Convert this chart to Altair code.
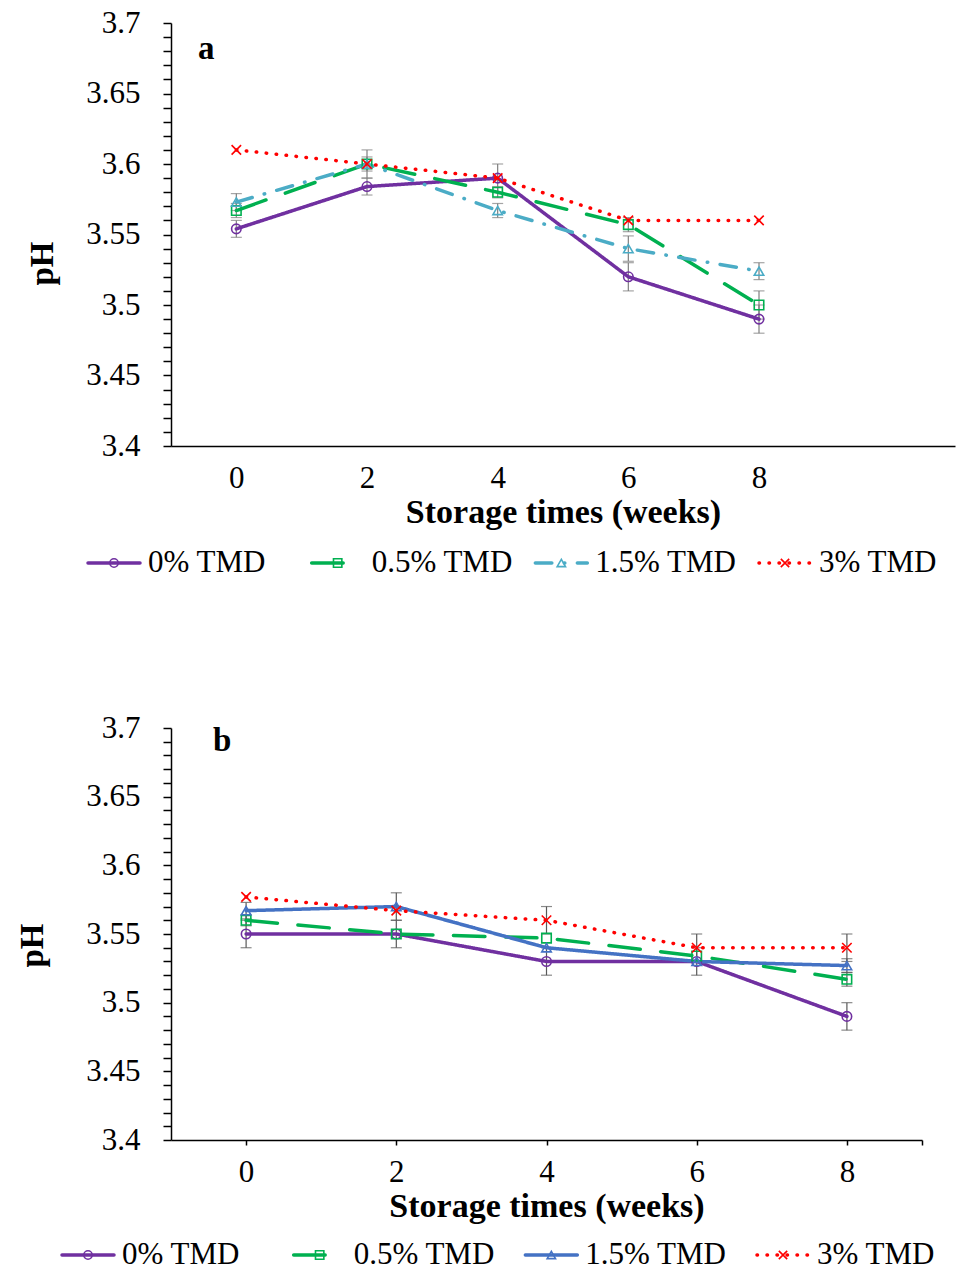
import altair as alt
import pandas as pd

# ---------------- data ----------------
weeks = [0, 2, 4, 6, 8]
series = ["0% TMD", "0.5% TMD", "1.5% TMD", "3% TMD"]

# panel a
a_ph_0 = [3.554, 3.584, 3.590, 3.520, 3.490]
a_ph_05 = [3.567, 3.600, 3.580, 3.557, 3.500]
a_ph_15 = [3.573, 3.600, 3.567, 3.540, 3.524]
a_ph_3 = [3.610, 3.600, 3.590, 3.560, 3.560]
a_sd_0 = [0.006, 0.006, 0.010, 0.010, 0.010]
a_sd_05 = [0.005, 0.010, 0.004, 0.005, 0.010]
a_sd_15 = [0.006, 0.005, 0.005, 0.009, 0.006]
a_sd_3 = [0.0, 0.0, 0.0, 0.0, 0.0]

# panel b
b_ph_0 = [3.550, 3.550, 3.530, 3.530, 3.490]
b_ph_05 = [3.560, 3.550, 3.547, 3.534, 3.517]
b_ph_15 = [3.567, 3.570, 3.540, 3.530, 3.527]
b_ph_3 = [3.577, 3.567, 3.560, 3.540, 3.540]
b_sd_0 = [0.010, 0.010, 0.010, 0.010, 0.010]
b_sd_05 = [0.004, 0.0, 0.0, 0.0, 0.005]
b_sd_15 = [0.006, 0.010, 0.0, 0.0, 0.005]
b_sd_3 = [0.0, 0.0, 0.010, 0.010, 0.010]

y_ticks = [round(3.40 + i * 0.01, 2) for i in range(31)]


def to_long(phs, sds):
    rows = []
    for s, ph, sd in zip(series, phs, sds):
        for w, v, e in zip(weeks, ph, sd):
            rows.append(dict(week=w, series=s, ph=v, sd=e, lo=v - e, hi=v + e))
    return pd.DataFrame(rows)


df_a = to_long([a_ph_0, a_ph_05, a_ph_15, a_ph_3], [a_sd_0, a_sd_05, a_sd_15, a_sd_3])
df_b = to_long([b_ph_0, b_ph_05, b_ph_15, b_ph_3], [b_sd_0, b_sd_05, b_sd_15, b_sd_3])

# ---------------- styles ----------------
FONT = "Liberation Serif"
XSHAPE = "M-1,-1L1,1M-1,1L1,-1"

colors_a = ["#7030A0", "#00B050", "#4BACC6", "#FF0000"]
colors_b = ["#7030A0", "#00B050", "#4472C4", "#FF0000"]
dashes_a = [[1, 0], [31.5, 20.5], [16.5, 12.5, 0.5, 12.5], [0.5, 9.5]]
dashes_b = [[1, 0], [31.5, 20.5], [1, 0], [0.5, 9.5]]
shapes = ["circle", "square", "triangle-up", XSHAPE]


def panel(df, tag, colors, dashes, W, H, xdom, xvals, xticksize, xlabexpr,
          titleX, titleY, tagx, tagy, errcolor):
    cscale = alt.Scale(domain=series, range=colors)
    dscale = alt.Scale(domain=series, range=dashes)
    sscale = alt.Scale(domain=series, range=shapes)

    xaxis = alt.Axis(values=xvals, ticks=xticksize > 0, tickSize=xticksize,
                     tickColor="black", tickWidth=1.5, domainColor="black",
                     domainWidth=1.5, grid=False, labelFont=FONT, labelFontSize=31,
                     labelColor="black", labelPadding=17 if xticksize == 0 else 12,
                     labelFlush=False, labelExpr=xlabexpr,
                     title="Storage times (weeks)", titleFont=FONT, titleFontSize=34,
                     titleFontWeight="bold", titleColor="black", titlePadding=2)
    yaxis = alt.Axis(values=y_ticks, labelOverlap=False, labelFlush=False,
                     labelExpr="abs(datum.value*20 - round(datum.value*20)) < 0.001 ? format(datum.value, '~g') : ''",
                     tickSize=8, tickColor="black", tickWidth=1.5, domainColor="black",
                     domainWidth=1.5, grid=False, labelFont=FONT, labelFontSize=31,
                     labelColor="black", labelPadding=23, title="pH", titleFont=FONT,
                     titleFontSize=33, titleFontWeight="bold", titleColor="black",
                     titleAngle=270, titleX=titleX, titleY=titleY,
                     titleAlign="center", titleBaseline="middle")
    xs = alt.Scale(domain=xdom, nice=False, zero=False)
    ys = alt.Scale(domain=[3.4, 3.7], nice=False, zero=False)

    def X():
        return alt.X("week:Q", scale=xs, axis=xaxis, title="Storage times (weeks)")

    def Y(field):
        return alt.Y(f"{field}:Q", scale=ys, axis=yaxis, title="pH")

    base = alt.Chart(df)
    err = base.transform_filter("datum.sd > 0")
    rules = err.mark_rule(color=errcolor, strokeWidth=1.2).encode(
        x=X(), y=Y("lo"), y2="hi:Q")
    cap_lo = err.mark_tick(color=errcolor, orient="horizontal", size=11,
                           thickness=1.2).encode(x=X(), y=Y("lo"))
    cap_hi = err.mark_tick(color=errcolor, orient="horizontal", size=11,
                           thickness=1.2).encode(x=X(), y=Y("hi"))
    lines = base.mark_line(strokeWidth=3.5, strokeCap="round", strokeJoin="round").encode(
        x=X(), y=Y("ph"),
        color=alt.Color("series:N", scale=cscale, legend=None),
        strokeDash=alt.StrokeDash("series:N", scale=dscale, legend=None),
        detail="series:N",
    )
    points = base.mark_point(filled=False, size=90, strokeWidth=1.6, opacity=1).encode(
        x=X(), y=Y("ph"),
        color=alt.Color("series:N", scale=cscale, legend=None),
        shape=alt.Shape("series:N", scale=sscale, legend=None),
    )
    label = alt.Chart(pd.DataFrame({"t": [tag]})).mark_text(
        font=FONT, fontSize=33, fontWeight="bold", align="left",
        baseline="alphabetic", color="black").encode(
        text="t:N", x=alt.value(tagx), y=alt.value(tagy))
    return alt.layer(rules, cap_lo, cap_hi, lines, points, label).properties(
        width=W, height=H)


def legend_row(colors, dashes, W, rng):
    cscale = alt.Scale(domain=series, range=colors)
    dscale = alt.Scale(domain=series, range=dashes)
    sscale = alt.Scale(domain=series, range=shapes)
    ldf = pd.DataFrame({"series": series})
    xl = alt.X("series:N",
               scale=alt.Scale(type="point", domain=series, range=rng, padding=0),
               axis=None)
    base = alt.Chart(ldf)
    line = base.mark_rule(strokeWidth=3.5, strokeCap="round", xOffset=-26,
                          x2Offset=26).encode(
        x=xl, x2="series:N", y=alt.value(15),
        color=alt.Color("series:N", scale=cscale, legend=None),
        strokeDash=alt.StrokeDash("series:N", scale=dscale, legend=None),
    )
    pts = base.mark_point(filled=False, size=70, strokeWidth=1.6, opacity=1).encode(
        x=xl, y=alt.value(15),
        color=alt.Color("series:N", scale=cscale, legend=None),
        shape=alt.Shape("series:N", scale=sscale, legend=None),
    )
    txt = base.mark_text(font=FONT, fontSize=31, align="left", baseline="middle",
                         dx=34, color="black").encode(
        x=xl, y=alt.value(15), text="series:N")
    return alt.layer(line, pts, txt).properties(width=W, height=30)


pa = panel(df_a, "a", colors_a, dashes_a, 784, 423, [-1, 11], weeks, 0, "datum.label",
           -129, 240, 27, 36, "#7F7F7F")
la = legend_row(colors_a, dashes_a, 784, [-57, 614])
pb = panel(df_b, "b", colors_b, dashes_b, 751, 412, [-1, 9], weeks + [9], 5,
           "datum.value == 9 ? '' : datum.label", -139, 217, 42, 23, "#595959")
lb = legend_row(colors_b, dashes_b, 751, [-83, 612])

top = alt.vconcat(pa, la, spacing=18)
bottom = alt.vconcat(pb, lb, spacing=16)

chart = alt.vconcat(top, bottom, spacing=134).resolve_scale(
    color="independent", strokeDash="independent", shape="independent"
).properties(
    padding={"left": 16, "top": 7, "right": 1, "bottom": 0},
    background="white",
).configure_view(stroke=None)

chart.save("out.html", embed_options={"renderer": "svg", "actions": False})
